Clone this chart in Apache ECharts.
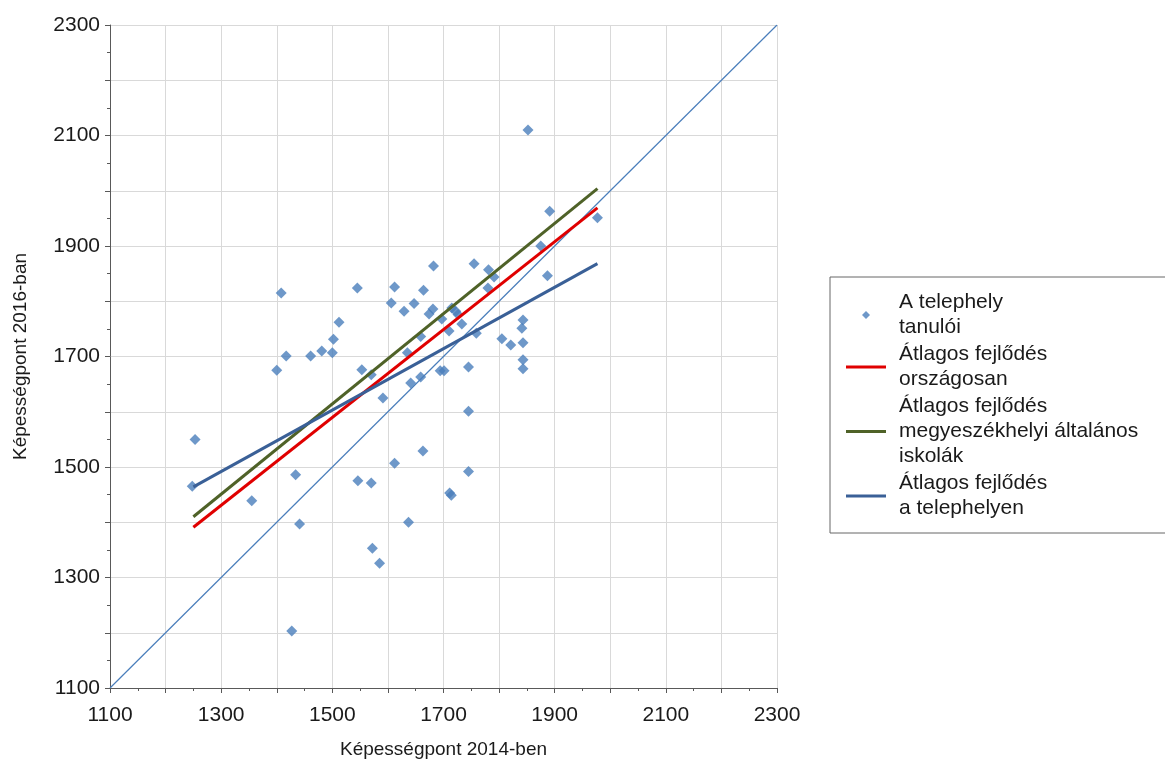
<!DOCTYPE html>
<html>
<head>
<meta charset="utf-8">
<script src="https://cdn.jsdelivr.net/npm/echarts@6/dist/echarts.min.js"></script>
<style>
html,body{margin:0;padding:0;background:#fff;}
#chart{width:1165px;height:760px;}
</style>
</head>
<body>
<div id="chart"></div>
<script>
// Students of the site: 2014 score (x) and 2016 score (y)
const studentX2014 = [1253,1248,1355,1408,1417,1400,1434,1441,1427,1461,1481,1502,1500,1512,1545,1553,1570,1546,1570,1572,1585,1591,1606,1612,1612,1629,1637,1635,1641,1647,1659,1659,1664,1663,1674,1681,1682,1697,1694,1701,1710,1714,1711,1715,1722,1726,1733,1745,1745,1745,1755,1759,1781,1791,1780,1805,1821,1843,1841,1843,1843,1843,1852,1875,1891,1887,1977];
const studentY2016 = [1550,1465,1439,1815,1701,1675,1486,1397,1203,1701,1710,1731,1707,1762,1824,1676,1667,1475,1471,1353,1326,1625,1797,1826,1507,1782,1400,1707,1652,1796,1736,1663,1820,1529,1777,1786,1864,1768,1674,1674,1746,1449,1453,1788,1782,1776,1759,1681,1601,1492,1868,1742,1857,1844,1824,1732,1721,1766,1751,1725,1694,1678,2110,1900,1963,1846,1951];

// Trend lines (x endpoints and y endpoints)
const trendX = [1250, 1977];
const nationalY = [1391, 1969];
const countySeatY = [1410, 2004];
const siteY = [1464, 1868];

// Reference line y = x
const diagonalX = [1100, 2300];
const diagonalY = [1100, 2300];

// Axis
const axisMin = 1100, axisMax = 2300, axisStep = 100, labelStep = 200;

// Series names & legend texts
const seriesNames = ['A telephely tanulói', 'Átlagos fejlődés országosan', 'Átlagos fejlődés megyeszékhelyi általános iskolák', 'Átlagos fejlődés a telephelyen'];
const legendTexts = ['A telephely\ntanulói', 'Átlagos fejlődés\nországosan', 'Átlagos fejlődés\nmegyeszékhelyi általános\niskolák', 'Átlagos fejlődés\na telephelyen'];
const xAxisName = 'Képességpont 2014-ben';
const yAxisName = 'Képességpont 2016-ban';

const FONT = "'Liberation Sans', Arial, sans-serif";
const zip = (xs, ys) => xs.map((x, i) => [x, ys[i]]);

// legend icons: 40x8 boxes (tiny corner specks fix the bounding box)
const ICON_DIAMOND = 'path://M20,0L24,4L20,8L16,4Z M0,4L0.01,4L0.01,4.01Z M39.99,4L40,4L40,4.01Z';
const ICON_LINE = 'path://M0,2.5L40,2.5L40,5.5L0,5.5Z M0,0L0.01,0L0.01,0.01Z M39.99,7.99L40,7.99L40,8Z';

const axisCommon = {
  type: 'value', min: axisMin, max: axisMax, interval: axisStep,
  axisLine: { show: true, lineStyle: { color: '#595959', width: 1 } },
  axisTick: { show: true, length: 5, inside: false, lineStyle: { color: '#595959' } },
  minorTick: { show: true, splitNumber: 2, length: 3, lineStyle: { color: '#595959' } },
  splitLine: { show: true, lineStyle: { color: '#d9d9d9', width: 1 } },
  axisLabel: {
    fontFamily: FONT, fontSize: 21, color: '#1a1a1a',
    formatter: v => ((v - axisMin) % labelStep === 0 ? String(v) : '')
  },
  nameLocation: 'middle',
  nameTextStyle: { fontFamily: FONT, fontSize: 19, color: '#1a1a1a' }
};

const chart = echarts.init(document.getElementById('chart'), null, { renderer: 'canvas' });
chart.setOption({
  animation: false,
  backgroundColor: '#fff',
  grid: { left: 110, right: 388, top: 25, bottom: 72, containLabel: false, outerBoundsMode: 'none' },
  xAxis: Object.assign({}, axisCommon, {
    name: xAxisName, nameGap: 52,
    axisLabel: Object.assign({}, axisCommon.axisLabel, { margin: 17 })
  }),
  yAxis: Object.assign({}, axisCommon, {
    name: yAxisName, nameGap: 80, nameRotate: 90,
    axisLabel: Object.assign({}, axisCommon.axisLabel, { margin: 10 })
  }),
  legend: {
    orient: 'vertical', left: 830, top: 277,
    padding: [13, 80, 12, 16],
    borderColor: '#666', borderWidth: 1,
    itemWidth: 40, itemHeight: 8, itemGap: 2,
    symbolKeepAspect: true,
    data: [
      { name: seriesNames[0], icon: ICON_DIAMOND },
      { name: seriesNames[1], icon: ICON_LINE },
      { name: seriesNames[2], icon: ICON_LINE },
      { name: seriesNames[3], icon: ICON_LINE }
    ],
    formatter: name => legendTexts[seriesNames.indexOf(name)],
    textStyle: { fontFamily: FONT, fontSize: 21, color: '#1a1a1a', lineHeight: 25, padding: [0, 0, 0, 8] }
  },
  series: [
    {
      name: 'diagonal', type: 'line', data: zip(diagonalX, diagonalY),
      symbol: 'none', silent: true, z: 1,
      lineStyle: { color: '#4a7ebb', width: 1.2 }
    },
    {
      name: seriesNames[0], type: 'scatter', data: zip(studentX2014, studentY2016),
      symbol: 'diamond', symbolSize: 11, z: 2,
      itemStyle: { color: '#4a7ebb' }
    },
    {
      name: seriesNames[1], type: 'line', data: zip(trendX, nationalY),
      symbol: 'none', z: 3, color: '#e00000',
      lineStyle: { color: '#e00000', width: 3 }
    },
    {
      name: seriesNames[2], type: 'line', data: zip(trendX, countySeatY),
      symbol: 'none', z: 3, color: '#4f6228',
      lineStyle: { color: '#4f6228', width: 3 }
    },
    {
      name: seriesNames[3], type: 'line', data: zip(trendX, siteY),
      symbol: 'none', z: 3, color: '#3a6097',
      lineStyle: { color: '#3a6097', width: 3 }
    }
  ]
});
</script>
</body>
</html>
